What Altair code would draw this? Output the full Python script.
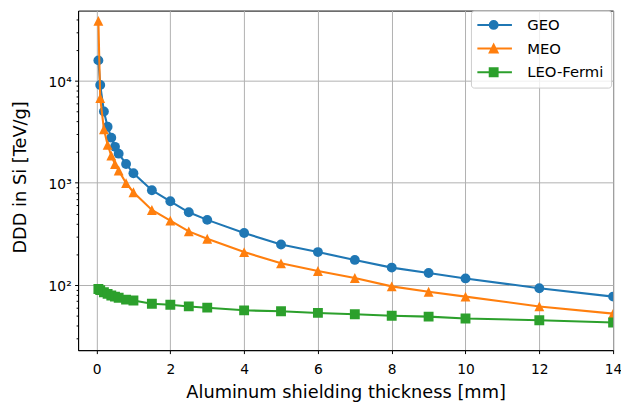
import altair as alt
import pandas as pd

# ---------------- data ----------------
thickness = [0.05, 0.1, 0.2, 0.3, 0.4, 0.5, 0.6, 0.8, 1.0, 1.5, 2, 2.5, 3,
             4, 5, 6, 7, 8, 9, 10, 12, 14]
geo = [15800, 9080, 4990, 3540, 2770, 2250, 1930, 1530, 1240, 847, 660, 515,
       434, 323, 249, 210, 176, 148, 131, 116, 93, 77]
meo = [38500, 6740, 3340, 2355, 1845, 1530, 1320, 995, 810, 542, 427, 335,
       284, 210, 163, 137, 117, 97, 86, 77, 61.7, 52.5]
leo = [91.5, 89, 85, 82, 79, 77, 75, 72, 70.5, 65.5, 64, 61.7, 60, 56.5,
       55.3, 53.3, 51.8, 50, 49, 47, 45.2, 43]

series_names = ["GEO", "MEO", "LEO-Fermi"]
colors = ["#1f77b4", "#ff7f0e", "#2ca02c"]
x_ticks = [0, 2, 4, 6, 8, 10, 12, 14]
y_major = [100, 1000, 10000]
y_minor = [30, 40, 50, 60, 70, 80, 90,
           200, 300, 400, 500, 600, 700, 800, 900,
           2000, 3000, 4000, 5000, 6000, 7000, 8000, 9000,
           20000, 30000, 40000]

rows = []
for name, vals in zip(series_names, [geo, meo, leo]):
    for t, v in zip(thickness, vals):
        rows.append({"series": name, "t": t, "ddd": v})
df = pd.DataFrame(rows)

FONT = "DejaVu Sans"
W, H = 542, 344

major_test = "datum.value == 100 || datum.value == 1000 || datum.value == 10000"

x_enc = alt.X(
    "t:Q",
    scale=alt.Scale(domain=[-0.5, 14], nice=False, zero=False),
    axis=alt.Axis(
        values=x_ticks, title="Aluminum shielding thickness [mm]",
        tickSize=3.5, labelPadding=9, labelFlush=False,
        titleY=47.5, titleBaseline="alphabetic",
    ),
)
y_enc = alt.Y(
    "ddd:Q",
    scale=alt.Scale(type="log", domain=[23.03, 48530], nice=False),
    axis=alt.Axis(
        values=y_major + y_minor, title="DDD in Si [TeV/g]",
        labelExpr="datum.value == 100 ? '10²' : datum.value == 1000 ? '10³' : datum.value == 10000 ? '10⁴' : ''",
        tickSize={"condition": {"test": major_test, "value": 3.5}, "value": 2},
        gridOpacity={"condition": {"test": major_test, "value": 1}, "value": 0},
        labelPadding=3.5, labelBaseline="alphabetic", labelOffset=6,
        labelOverlap=False, labelFlush=False,
        titleX=-53, titleY=168.5, titleAngle=270, titleAlign="center",
        titleBaseline="alphabetic",
    ),
)

plot_shapes = ["circle", "M0,-1L1,1L-1,1Z", "square"]

layers = []
for name, color, shp in zip(series_names, colors, plot_shapes):
    base = alt.Chart(df).transform_filter(alt.datum.series == name)
    layers.append(base.mark_line(color=color, strokeWidth=2.1, clip=True)
                  .encode(x=x_enc, y=y_enc))
    layers.append(base.mark_point(filled=True, color=color, shape=shp, size=100,
                                  opacity=1, clip=True)
                  .encode(x=x_enc, y=y_enc))

# legend symbols: line segment + marker
line_part = "M-1.6,0H5.4"
legend_paths = [
    line_part + "M2.5,0A0.8,0.8 0 1,1 0.9,0A0.8,0.8 0 1,1 2.5,0Z",
    line_part + "M1.7,-0.8L2.5,0.8L0.9,0.8Z",
    line_part + "M0.9,-0.8H2.5V0.8H0.9Z",
]
legend = alt.Legend(
    orient="none", legendX=398, legendY=0, title=None,
    labelFont=FONT, labelFontSize=15, labelColor="black", labelOffset=35,
    symbolSize=100, symbolStrokeWidth=2, symbolOpacity=1,
    padding=7, rowPadding=7,
    strokeColor="#cccccc", fillColor="rgba(255,255,255,0.8)", cornerRadius=3,
)
leg = alt.Chart(df).mark_point(filled=True, opacity=0, strokeWidth=2).encode(
    x=x_enc, y=y_enc,
    fill=alt.Fill("series:N", scale=alt.Scale(domain=series_names, range=colors), legend=legend),
    stroke=alt.Stroke("series:N", scale=alt.Scale(domain=series_names, range=colors), legend=legend),
    shape=alt.Shape("series:N", scale=alt.Scale(domain=series_names, range=legend_paths), legend=legend),
)

chart = (
    alt.layer(*layers, leg)
    .properties(
        width=W, height=H,
        padding={"left": 71, "top": 0, "right": 8, "bottom": 58},
        autosize=alt.AutoSizeParams(type="none"),
    )
    .configure_view(stroke="black", strokeWidth=1)
    .configure_axis(
        domainColor="black", domainWidth=1, tickColor="black", tickWidth=1,
        gridColor="#b0b0b0", gridWidth=1,
        labelFont=FONT, labelFontSize=14, labelColor="black",
        titleFont=FONT, titleFontSize=18, titleColor="black", titleFontWeight="normal",
    )
)

chart.save("out.html", embed_options={"renderer": "svg", "actions": False})
